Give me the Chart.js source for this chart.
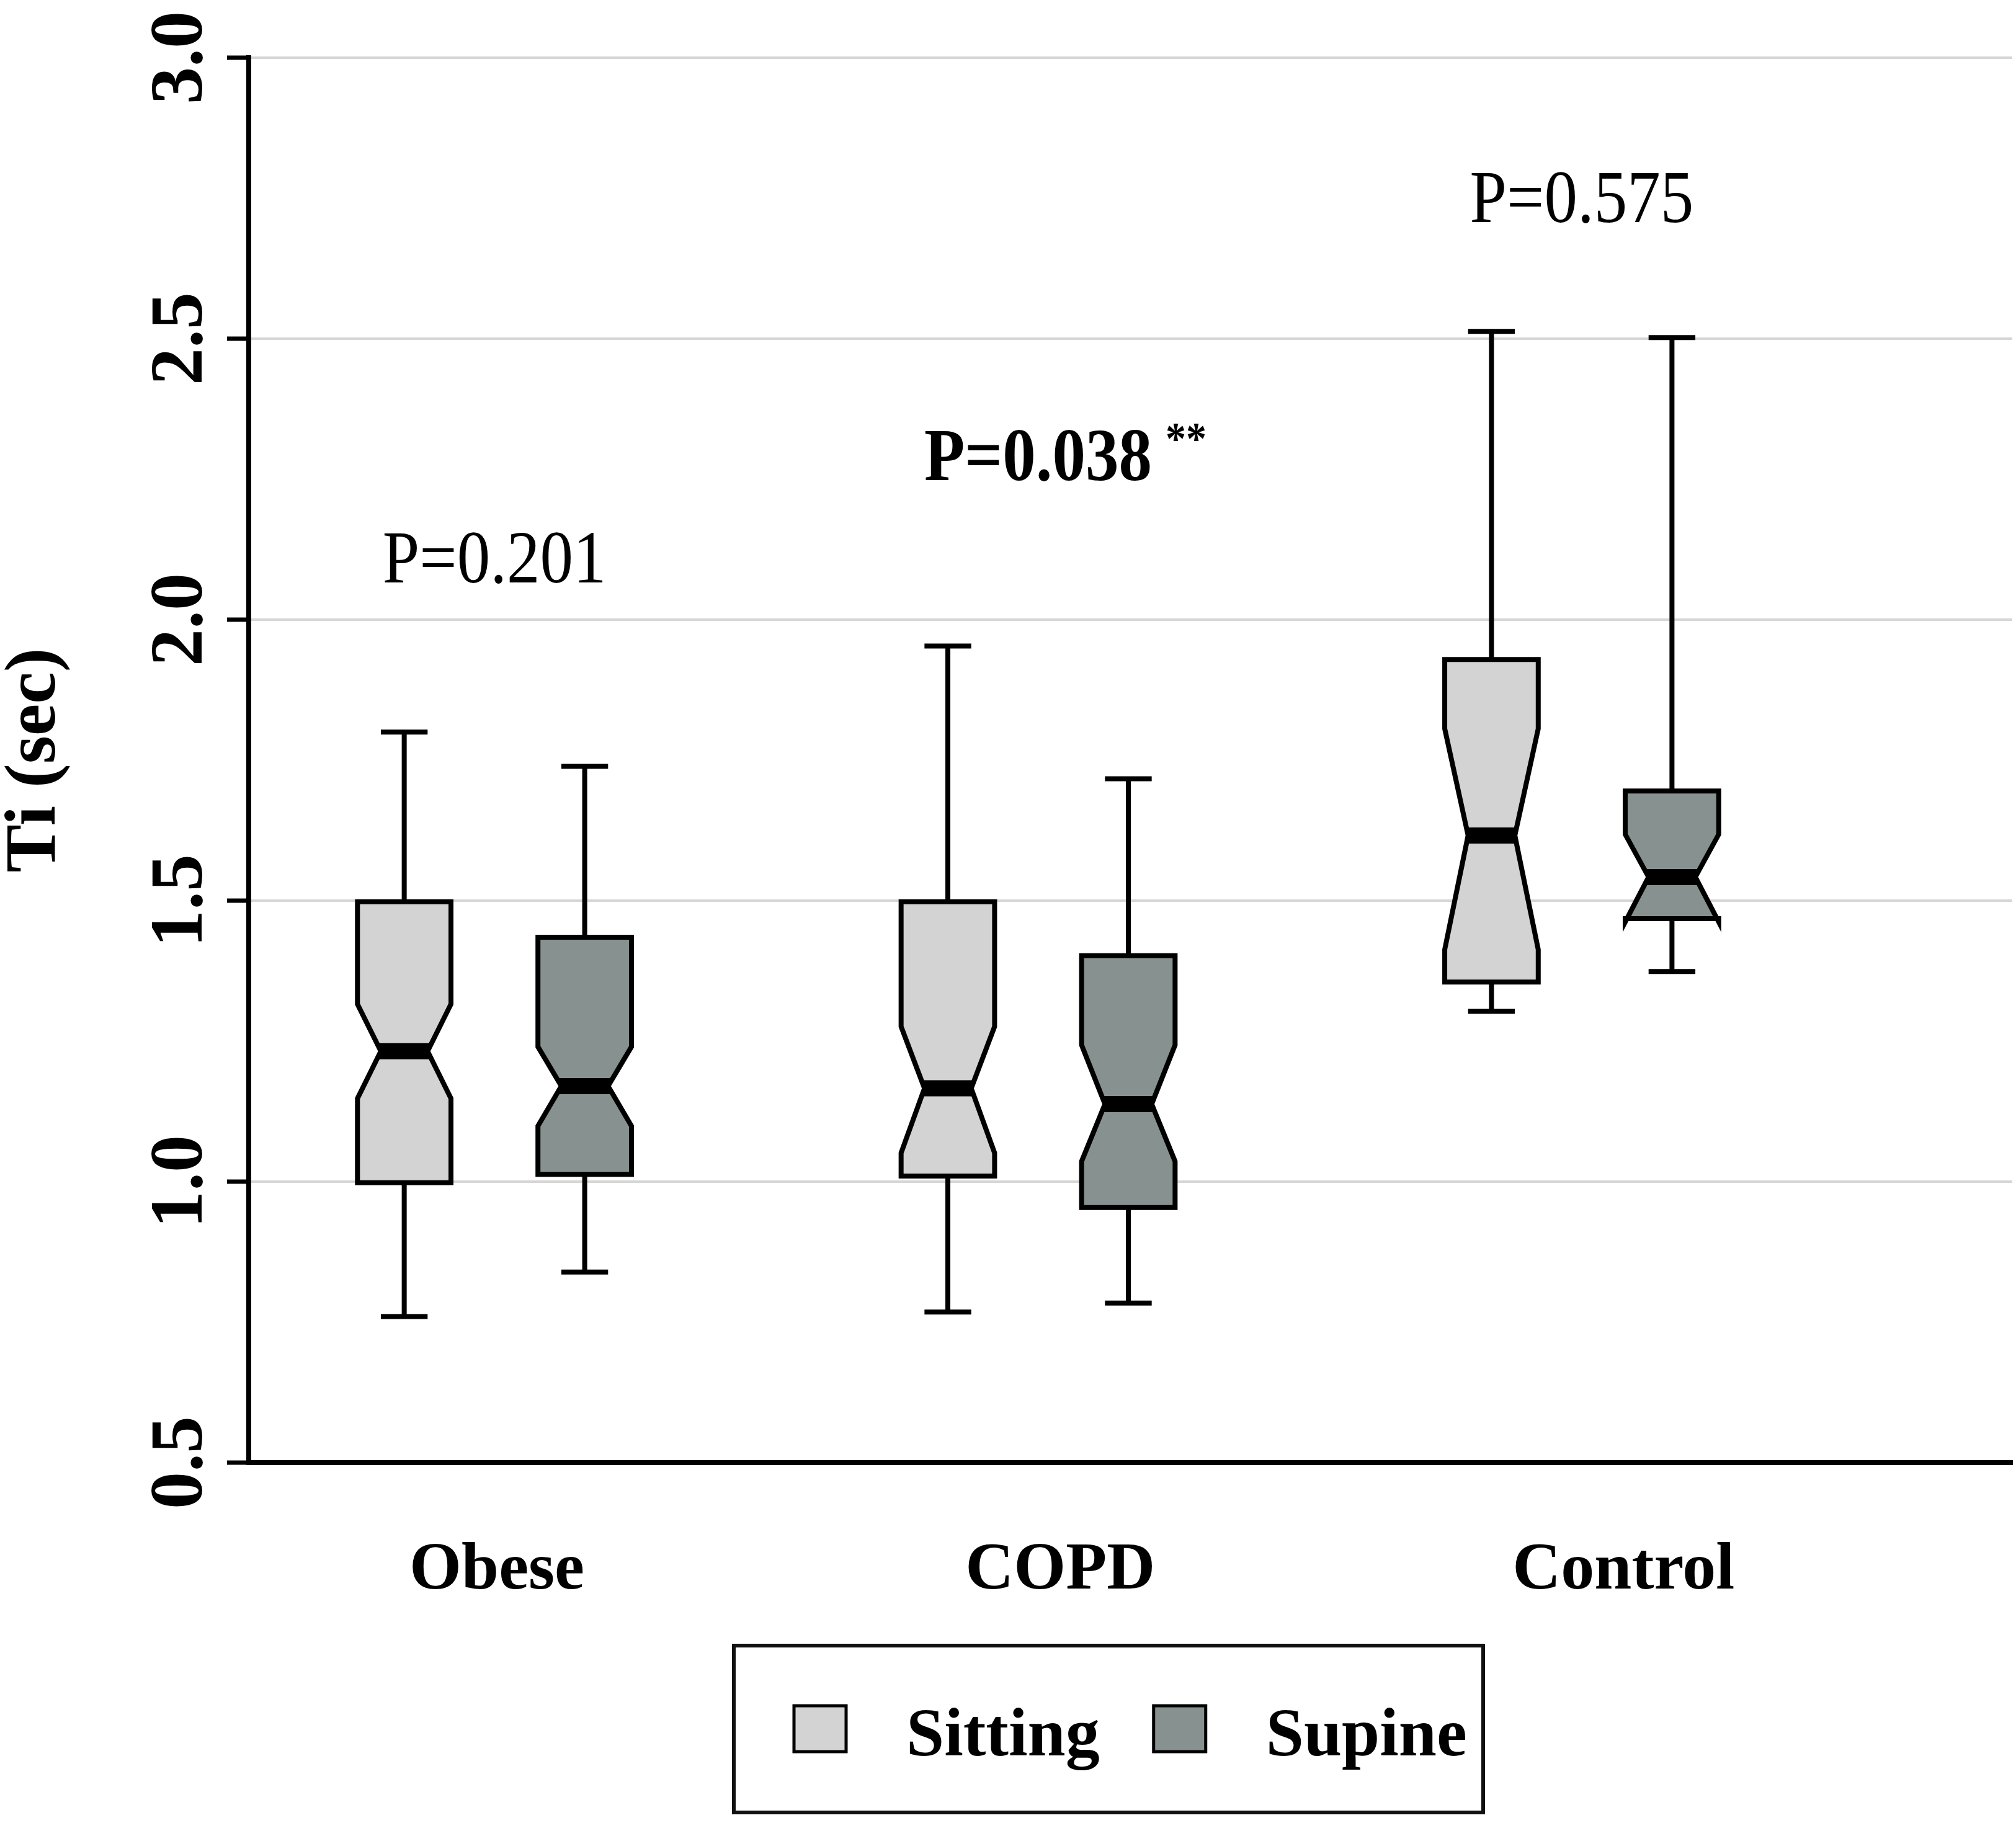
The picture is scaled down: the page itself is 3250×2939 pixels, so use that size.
<!DOCTYPE html>
<html>
<head>
<meta charset="utf-8">
<script src="https://cdn.jsdelivr.net/npm/chart.js@4.4.1/dist/chart.umd.min.js"></script>
<style>
html,body{margin:0;padding:0;background:#ffffff;}
canvas{display:block;}
</style>
</head>
<body>
<canvas id="chart" width="3250" height="2939" style="width:3250px;height:2939px"></canvas>
<script>
// ---------------- data ----------------
const categories = ['Obese', 'COPD', 'Control'];
const seriesNames = ['Sitting', 'Supine'];

const sittingMin     = [0.760, 0.768, 1.303];
const sittingQ1      = [0.998, 1.010, 1.355];
const sittingMedian  = [1.232, 1.166, 1.616];
const sittingQ3      = [1.498, 1.498, 1.929];
const sittingMax     = [1.800, 1.953, 2.513];
const sittingNotchLo = [1.148, 1.051, 1.413];
const sittingNotchHi = [1.316, 1.276, 1.806];

const supineMin      = [0.839, 0.784, 1.374];
const supineQ1       = [1.013, 0.954, 1.468];
const supineMedian   = [1.170, 1.138, 1.542];
const supineQ3       = [1.435, 1.402, 1.695];
const supineMax      = [1.739, 1.717, 2.502];
const supineNotchLo  = [1.099, 1.036, 1.462];
const supineNotchHi  = [1.240, 1.243, 1.618];

const pLabels = ['P=0.201', 'P=0.038', 'P=0.575'];
const pMarks  = ['', '**', ''];
const yTickValues = [0.5, 1.0, 1.5, 2.0, 2.5, 3.0];

// ---------------- styles ----------------
const SERIF = '"Liberation Serif", "Times New Roman", Times, serif';
const fillColors = ['#d3d3d3', '#879290'];
const GROUP_OFFSET = [-0.166, 0.166];   // x offset of each series inside a group (axis units)
const BOX_HALF = 0.086;                 // half box width (axis units)
const pAnchorY = [2.066, 2.248, 2.707]; // baseline of the P annotations (axis units)

function buildBoxes(mn, q1, md, q3, mx, nlo, nhi) {
  return categories.map((c, i) => ({
    x: i + 1, y: md[i],
    min: mn[i], q1: q1[i], median: md[i], q3: q3[i], max: mx[i],
    notchLo: nlo[i], notchHi: nhi[i]
  }));
}

const datasets = [
  { label: seriesNames[0], backgroundColor: fillColors[0], xAxisID: 'x', yAxisID: 'y',
    data: buildBoxes(sittingMin, sittingQ1, sittingMedian, sittingQ3, sittingMax, sittingNotchLo, sittingNotchHi),
    pointRadius: 0, pointHoverRadius: 0, showLine: false },
  { label: seriesNames[1], backgroundColor: fillColors[1], xAxisID: 'x', yAxisID: 'y',
    data: buildBoxes(supineMin, supineQ1, supineMedian, supineQ3, supineMax, supineNotchLo, supineNotchHi),
    pointRadius: 0, pointHoverRadius: 0, showLine: false }
];

// ---------------- plugins ----------------
const boxPlotPlugin = {
  id: 'notchedBoxes',
  afterDatasetsDraw(chart) {
    const ctx = chart.ctx, xs = chart.scales.x, ys = chart.scales.y;
    const Y = v => ys.getPixelForValue(v);
    chart.data.datasets.forEach((ds, di) => {
      ds.data.forEach(d => {
        const cx = xs.getPixelForValue(d.x + GROUP_OFFSET[di]);
        const hw = xs.getPixelForValue(d.x + GROUP_OFFSET[di] + BOX_HALF) - cx;
        const xl = cx - hw, xr = cx + hw, wl = cx - hw / 2, wr = cx + hw / 2;
        ctx.save();
        ctx.strokeStyle = '#000';
        ctx.lineCap = 'butt';
        // whiskers
        ctx.lineWidth = 8;
        ctx.beginPath();
        ctx.moveTo(cx, Y(d.q3)); ctx.lineTo(cx, Y(d.max));
        ctx.moveTo(cx, Y(d.q1)); ctx.lineTo(cx, Y(d.min));
        ctx.moveTo(cx - hw / 2, Y(d.max)); ctx.lineTo(cx + hw / 2, Y(d.max));
        ctx.moveTo(cx - hw / 2, Y(d.min)); ctx.lineTo(cx + hw / 2, Y(d.min));
        ctx.stroke();
        // notched box
        ctx.beginPath();
        ctx.moveTo(xl, Y(d.q1));
        ctx.lineTo(xl, Y(d.notchLo));
        ctx.lineTo(wl, Y(d.median));
        ctx.lineTo(xl, Y(d.notchHi));
        ctx.lineTo(xl, Y(d.q3));
        ctx.lineTo(xr, Y(d.q3));
        ctx.lineTo(xr, Y(d.notchHi));
        ctx.lineTo(wr, Y(d.median));
        ctx.lineTo(xr, Y(d.notchLo));
        ctx.lineTo(xr, Y(d.q1));
        ctx.closePath();
        ctx.fillStyle = ds.backgroundColor;
        ctx.fill();
        ctx.lineJoin = 'miter';
        ctx.lineWidth = 8;
        ctx.stroke();
        // median
        ctx.lineWidth = 26;
        ctx.beginPath();
        ctx.moveTo(wl - 3, Y(d.median));
        ctx.lineTo(wr + 3, Y(d.median));
        ctx.stroke();
        ctx.restore();
      });
    });
  }
};

const annotationPlugin = {
  id: 'pAnnotations',
  afterDatasetsDraw(chart) {
    const ctx = chart.ctx, xs = chart.scales.x, ys = chart.scales.y;
    pLabels.forEach((txt, i) => {
      const bold = pMarks[i] !== '';
      const x = xs.getPixelForValue(i + 1);
      const y = ys.getPixelForValue(pAnchorY[i]);
      ctx.save();
      ctx.fillStyle = '#000';
      ctx.textBaseline = 'alphabetic';
      ctx.textAlign = 'center';
      ctx.font = (bold ? 'bold ' : '') + '107px ' + SERIF;
      const w = ctx.measureText(txt).width;
      ctx.translate(x, y);
      ctx.scale(1, 1.12);
      ctx.fillText(txt, 0, 0);
      if (bold) {
        ctx.textAlign = 'left';
        ctx.font = 'bold 66px ' + SERIF;
        ctx.fillText(pMarks[i], w / 2 + 22, -38);
      }
      ctx.restore();
    });
  }
};

const legendBoxPlugin = {
  id: 'framedLegend',
  afterDraw(chart) {
    const ctx = chart.ctx;
    ctx.save();
    ctx.strokeStyle = '#111';
    ctx.lineWidth = 6;
    ctx.strokeRect(1183, 2653, 1208, 269);
    ctx.font = 'bold 110px ' + SERIF;
    ctx.textBaseline = 'alphabetic';
    ctx.textAlign = 'left';
    let sx = 1280;
    chart.data.datasets.forEach(ds => {
      ctx.fillStyle = ds.backgroundColor;
      ctx.fillRect(sx, 2750, 84, 74);
      ctx.lineWidth = 5;
      ctx.strokeStyle = '#000';
      ctx.strokeRect(sx, 2750, 84, 74);
      ctx.fillStyle = '#000';
      const tx = sx + 181;
      ctx.fillText(ds.label, tx, 2830);
      sx = tx + ctx.measureText(ds.label).width + 87;
    });
    ctx.restore();
  }
};

// ---------------- chart ----------------
Chart.defaults.color = '#000';
Chart.defaults.font.family = SERIF;

new Chart(document.getElementById('chart'), {
  type: 'scatter',
  data: { datasets },
  plugins: [boxPlotPlugin, annotationPlugin, legendBoxPlugin],
  options: {
    responsive: false,
    animation: false,
    devicePixelRatio: 1,
    layout: { padding: { top: 93, right: 6, bottom: 0, left: 0 } },
    plugins: { legend: { display: false }, tooltip: { enabled: false } },
    events: [],
    scales: {
      x: {
        type: 'linear',
        position: 'bottom',
        weight: 0,
        min: 0.548, max: 3.792,
        afterFit(s) { s.height = 0; },
        grid: { display: false, drawTicks: false },
        border: { display: true, color: '#000', width: 8 },
        ticks: { display: false }
      },
      xLabels: {
        type: 'linear',
        axis: 'x',
        position: 'bottom',
        weight: 1,
        min: 0.5595, max: 3.690,
        afterFit(s) { s.height = 581; },
        afterBuildTicks(s) { s.ticks = categories.map((c, i) => ({ value: i + 1 })); },
        grid: { display: false, drawTicks: false },
        border: { display: false },
        ticks: {
          padding: 110,
          maxRotation: 0, minRotation: 0, autoSkip: false,
          font: { family: SERIF, size: 108, weight: 'bold' },
          color: '#000',
          callback: v => categories[Math.round(v) - 1]
        }
      },
      y: {
        type: 'linear',
        min: 0.5, max: 3.0,
        afterFit(s) { s.width = 401; },
        afterBuildTicks(s) { s.ticks = yTickValues.map(v => ({ value: v })); },
        grid: {
          color: c => (c.tick && c.tick.value === 0.5) ? 'rgba(0,0,0,0)' : '#d6d6d6',
          lineWidth: 4,
          drawTicks: true, tickLength: 35, tickColor: '#000', tickWidth: 7
        },
        border: { display: true, color: '#000', width: 8 },
        ticks: {
          padding: -3,
          minRotation: 90, maxRotation: 90, autoSkip: false,
          crossAlign: 'center',
          font: { family: SERIF, size: 120, weight: 'bold' },
          color: '#000',
          callback: v => Number(v).toFixed(1)
        },
        title: {
          display: true, text: 'Ti (sec)', color: '#000', padding: 0,
          font: { family: SERIF, size: 116, weight: 'bold', lineHeight: 1 }
        }
      }
    }
  }
});
</script>
</body>
</html>
